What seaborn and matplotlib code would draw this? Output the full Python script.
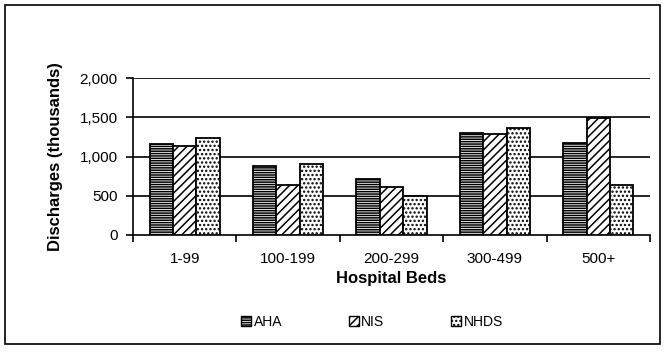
import numpy as np
import pandas as pd
import matplotlib
matplotlib.use("Agg")
import matplotlib.pyplot as plt
from matplotlib.patches import Rectangle, Patch
import seaborn as sns

# data (thousands of discharges)
bed_groups = ["1-99", "100-199", "200-299", "300-499", "500+"]
sources = ["AHA", "NIS", "NHDS"]
aha = [1155, 879, 709, 1295, 1168]
nis = [1134, 633, 607, 1283, 1490]
nhds = [1232, 904, 500, 1359, 633]

hatches = {"AHA": "-------", "NIS": "////", "NHDS": "...."}

df = pd.DataFrame({
    "Beds": bed_groups * 3,
    "Source": ["AHA"] * 5 + ["NIS"] * 5 + ["NHDS"] * 5,
    "Discharges": aha + nis + nhds,
})

sns.set_style("white")
plt.rcParams["font.family"] = ["Liberation Sans", "DejaVu Sans"]
plt.rcParams["hatch.linewidth"] = 1.1
plt.rcParams["hatch.color"] = "black"
for key in ["text.color", "axes.labelcolor", "xtick.color", "ytick.color", "axes.edgecolor"]:
    plt.rcParams[key] = "black"

fig = plt.figure(figsize=(6.68, 3.52), dpi=100)
ax = fig.add_axes([133 / 668, 1 - 235 / 352, (650 - 133) / 668, (235 - 78) / 352])

sns.barplot(data=df, x="Beds", y="Discharges", hue="Source", order=bed_groups,
            hue_order=sources, palette=["white"] * 3, width=0.68, gap=0,
            edgecolor="black", linewidth=1.3, legend=False, ax=ax, zorder=3)

# hatch each bar container by source
for cont, src in zip(ax.containers, sources):
    for bar in cont:
        bar.set_hatch(hatches[src])
        bar.set_edgecolor("black")

ax.set_ylim(0, 2000)
ax.set_xlim(-0.5, len(bed_groups) - 0.5)
ax.set_yticks([0, 500, 1000, 1500, 2000])
ax.set_yticklabels(["0", "500", "1,000", "1,500", "2,000"], fontsize=11)
for y in [500, 1000, 1500, 2000]:
    ax.axhline(y, color="black", lw=1.2, zorder=1)

# category boundaries as major ticks, labels on minor ticks
ax.set_xticks(np.arange(-0.5, len(bed_groups)), labels=[""] * (len(bed_groups) + 1))
ax.set_xticks(np.arange(len(bed_groups)), labels=bed_groups, minor=True)
ax.tick_params(axis="x", which="minor", length=0, labelsize=11, pad=12)
ax.tick_params(axis="both", which="major", direction="out", length=5, width=1.2,
               color="black", labelsize=11, pad=6, bottom=True, left=True)

for side in ["top", "right"]:
    ax.spines[side].set_visible(False)
for side in ["left", "bottom"]:
    ax.spines[side].set_color("black")
    ax.spines[side].set_linewidth(1.2)

ax.set_xlabel("Hospital Beds", fontsize=12, fontweight="bold", labelpad=4)
ax.set_ylabel("Discharges (thousands)", fontsize=12, fontweight="bold", labelpad=12)

handles = [Patch(facecolor="white", edgecolor="black", hatch=hatches[s], lw=1) for s in sources]
fig.legend(handles, sources, loc="center", bbox_to_anchor=(372 / 668, 1 - 322 / 352),
           ncol=3, frameon=False, fontsize=10, handlelength=0.7, handleheight=0.7,
           handletextpad=0.2, columnspacing=4.8)

# outer border around the whole chart
fig.patches.append(Rectangle((5 / 668, 1 - 344 / 352), 655 / 668, 339 / 352,
                             transform=fig.transFigure, fill=False,
                             edgecolor="black", lw=1.2))

fig.savefig("out.png", dpi=100, facecolor="white")
